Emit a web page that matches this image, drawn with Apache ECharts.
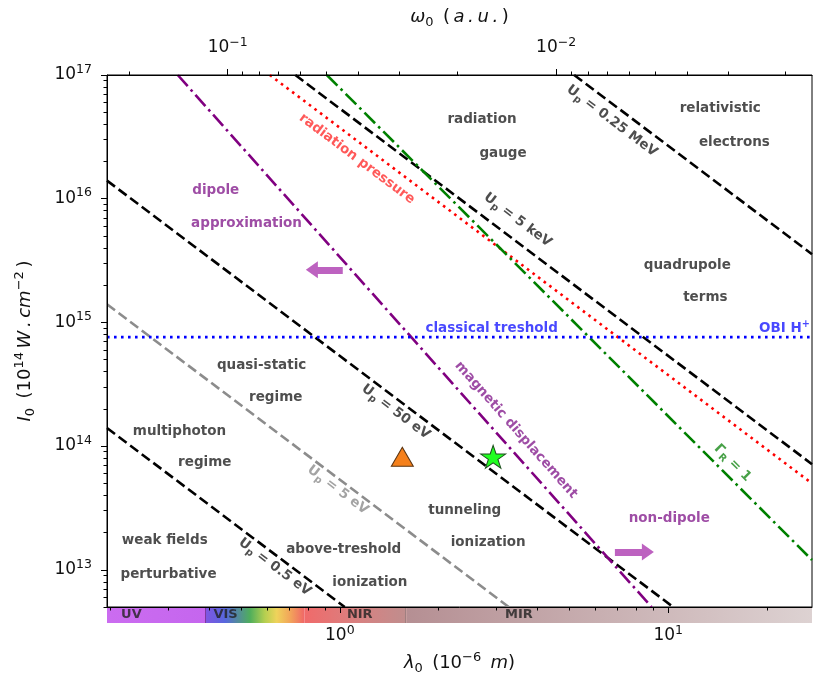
<!DOCTYPE html>
<html>
<head>
<meta charset="utf-8">
<style>
  html, body { margin: 0; padding: 0; background: #fff; }
  #chart { width: 814px; height: 680px; }
</style>
<script src="https://cdn.jsdelivr.net/npm/echarts@6.0.0/dist/echarts.min.js"></script>
</head>
<body>
<div id="chart"></div>
<script>
// ---------- axis ranges (wavelength in µm, intensity in W/cm²) ----------
const lambdaRange = [0.1955, 27.4];
const intensityRange = [5e12, 1e17];
const AU_UM = 0.045563;               // photon energy in a.u. times wavelength in µm

// ---------- tick values ----------
const lambdaMajor = [1, 10];
const lambdaMinor = [0.2, 0.3, 0.4, 0.5, 0.6, 0.7, 0.8, 0.9, 2, 3, 4, 5, 6, 7, 8, 9, 20];
const intensityMajor = [1e13, 1e14, 1e15, 1e16, 1e17];
const intensityMinorMantissa = [2, 3, 4, 5, 6, 7, 8, 9];
const intensityMinorDecades = [1e12, 1e13, 1e14, 1e15, 1e16];
const omegaMajor = [0.1, 0.01];
const omegaMinor = [0.2, 0.09, 0.08, 0.07, 0.06, 0.05, 0.04, 0.03, 0.02,
                    0.009, 0.008, 0.007, 0.006, 0.005, 0.004, 0.003, 0.002];

// ---------- regime boundaries: end points [λ, I] ----------
const upHalfEv        = [[0.1955, 1.40e14], [1.035, 5.0e12]];
const upFiveEv        = [[0.1955, 1.40e15], [3.27, 5.0e12]];
const upFiftyEv       = [[0.1955, 1.40e16], [10.35, 5.0e12]];
const upFiveKeV       = [[0.732, 1.0e17], [27.4, 7.14e13]];
const upQuarterMeV    = [[5.17, 1.0e17], [27.4, 3.56e15]];
const radiationPress  = [[0.612, 1.0e17], [27.4, 4.99e13]];
const gammaROne       = [[0.913, 1.0e17], [27.4, 1.2e13]];
const magneticDispl   = [[0.321, 1.0e17], [8.9, 5.0e12]];
const classicalThresh = [[0.1955, 7.6e14], [27.4, 7.6e14]];

// ---------- experimental points ----------
const trianglePoint = [1.55, 8.2e13];
const starPoint     = [2.93, 8.2e13];

// ---------- arrows ----------
const arrowDipole    = [[1.021, 2.66e15], [0.822, 2.66e15]];
const arrowNonDipole = [[6.88, 1.39e13], [8.67, 1.39e13]];

// ---------- region labels ----------
const regionText = ['radiation', 'gauge', 'relativistic', 'electrons', 'quadrupole', 'terms',
  'quasi-static', 'regime', 'multiphoton', 'regime', 'tunneling', 'ionization',
  'weak fields', 'perturbative', 'above-treshold', 'ionization'];
const regionLambda = [2.71, 3.14, 14.4, 15.9, 11.43, 12.97, 0.578, 0.638, 0.325, 0.388,
  2.40, 2.83, 0.293, 0.301, 1.028, 1.235];
const regionIntensity = [4.33e16, 2.34e16, 5.4e16, 2.87e16, 2.91e15, 1.60e15, 4.44e14, 2.45e14,
  1.32e14, 7.3e13, 3.04e13, 1.65e13, 1.71e13, 9.08e12, 1.47e13, 7.82e12];

const dipoleText = ['dipole', 'approximation', 'non-dipole'];
const dipoleLambda = [0.419, 0.520, 10.07];
const dipoleIntensity = [1.175e16, 6.25e15, 2.62e13];

// ---------- labels along the boundaries ----------
const upLabelEnergy = ['0.25 MeV', '5 keV', '50 eV', '5 eV', '0.5 eV'];
const upLabelLambda = [6.74, 3.48, 1.48, 0.986, 0.634];
const upLabelIntensity = [4.25e16, 6.73e15, 1.89e14, 4.42e13, 1.05e13];

const pressureLabel = [1.127, 2.1e16];
const magneticLabel = [3.44, 1.35e14];
const gammaLabel = [15.7, 7.3e13];
const thresholdLabel = [2.90, 9.0e14];
const obiLabel = [22.6, 9.0e14];

// ---------- spectral bar ----------
const bandEdges = [0.1955, 0.39, 0.78, 1.6, 27.4];   // UV | VIS | NIR | MIR
const bandNames = ['UV', 'VIS', 'NIR', 'MIR'];
const bandLabelAt = [0.232, 0.449, 1.15, 3.51];

// =====================================================================
const L = Math.log10;
const FONT = 'DejaVu Sans';
const TS = '\u2009';                   // thin space for math-like spacing
const toXY = p => [L(p[0]), L(p[1])];

const intensityMinor = [];
intensityMinorDecades.forEach(d => intensityMinorMantissa.forEach(m => {
  const v = d * m;
  if (v >= intensityRange[0] && v <= intensityRange[1]) intensityMinor.push(v);
}));

const tickRich = {
  b: { fontFamily: FONT, fontSize: 17, color: '#111', lineHeight: 24 },
  s: { fontFamily: FONT, fontSize: 12.5, color: '#111', lineHeight: 13, verticalAlign: 'top' }
};
const pow10 = e => '{b|10}{s|' + String(e).replace('-', '\u2212') + '}';

const titleRich = {
  i: { fontFamily: FONT, fontStyle: 'italic', fontSize: 18, color: '#111', lineHeight: 24 },
  n: { fontFamily: FONT, fontSize: 18, color: '#111', lineHeight: 24 },
  sub: { fontFamily: FONT, fontSize: 13, color: '#111', lineHeight: 13, verticalAlign: 'bottom' },
  sup: { fontFamily: FONT, fontSize: 13, color: '#111', lineHeight: 13, verticalAlign: 'top' }
};

function richFor(color, size) {
  size = size || 13.5;
  return {
    t: { fontFamily: FONT, fontWeight: 'bold', fontSize: size, color: color, lineHeight: 18 },
    sb: { fontFamily: FONT, fontWeight: 'bold', fontSize: size * 0.72, color: color, lineHeight: 10, verticalAlign: 'bottom' },
    sp: { fontFamily: FONT, fontWeight: 'bold', fontSize: size * 0.72, color: color, lineHeight: 10, verticalAlign: 'top' }
  };
}

function note(pos, fmt, color, rotate) {
  return {
    value: toXY(pos),
    label: { show: true, position: 'inside', formatter: fmt, rich: richFor(color), rotate: rotate || 0 }
  };
}

const notes = [];
regionText.forEach((t, i) => notes.push(note([regionLambda[i], regionIntensity[i]], '{t|' + t + '}', '#222')));
dipoleText.forEach((t, i) => notes.push(note([dipoleLambda[i], dipoleIntensity[i]], '{t|' + t + '}', '#86208f')));
upLabelEnergy.forEach((t, i) => notes.push(note([upLabelLambda[i], upLabelIntensity[i]],
  '{t|U}{sb|p}{t| = ' + t + '}', t === '5 eV' ? '#8c8c8c' : '#222', -37)));
notes.push(note(pressureLabel, '{t|radiation pressure}', '#ff3030', -37));
notes.push(note(magneticLabel, '{t|magnetic displacement}', '#86208f', -48.5));
notes.push(note(gammaLabel, '{t|\u0393}{sb|R}{t| = 1}', '#1a8a1a', -45));
notes.push(note(thresholdLabel, '{t|classical treshold}', '#1a1aff'));
notes.push(note(obiLabel, '{t|OBI H}{sp|+}', '#1a1aff'));

function boundary(pts, color, width, dash) {
  return {
    type: 'line', xAxisIndex: 0, yAxisIndex: 0, data: pts.map(toXY),
    symbol: 'none', silent: true, clip: true, z: 3,
    lineStyle: { color: color, width: width, type: dash }
  };
}
const DASH = [10, 4.5], DOT = [2.6, 4.4], DASHDOT = [15, 4.5, 2.6, 4.5];

function arrow(pts) {
  return {
    type: 'line', xAxisIndex: 0, yAxisIndex: 0, data: [], silent: true,
    markLine: {
      silent: true, animation: false, symbol: ['none', 'triangle'], symbolSize: [17, 12],
      label: { show: false },
      lineStyle: { color: '#bd62c0', width: 7, type: 'solid', opacity: 1 },
      data: [[{ coord: toXY(pts[0]) }, { coord: toXY(pts[1]) }]]
    }
  };
}

const STAR = 'path://M50,0 L61.2,34.5 L97.6,34.5 L68.2,55.9 L79.4,90.5 L50,69.1 L20.6,90.5 L31.8,55.9 L2.4,34.5 L38.8,34.5 Z';

const grad = stops => ({ type: 'linear', x: 0, y: 0, x2: 1, y2: 0,
  colorStops: stops.map(s => ({ offset: s[0], color: s[1] })) });
const bandFills = [
  grad([[0, '#cb6cf0'], [1, '#c566ee']]),
  grad([[0, '#7f56e2'], [0.2, '#5767dd'], [0.45, '#4fae5c'], [0.6, '#b5cf50'], [0.72, '#efd35b'], [0.86, '#f2a35a'], [1, '#f06767']]),
  grad([[0, '#f06a6a'], [0.5, '#d98080'], [1, '#bf8e8e']]),
  grad([[0, '#b58f93'], [1, '#ddd2d2']])
];

const xMin = L(lambdaRange[0]), xMax = L(lambdaRange[1]);
const yMin = L(intensityRange[0]), yMax = L(intensityRange[1]);

function axisBase(extra) {
  return Object.assign({
    type: 'value', gridIndex: 0, z: 10,
    splitLine: { show: false },
    axisLine: { show: true, onZero: false, lineStyle: { color: '#000', width: 1 } }
  }, extra);
}
const noLine = { show: false, onZero: false };

const option = {
  animation: false,
  backgroundColor: '#fff',
  grid: [
    { left: 107, right: 2, top: 75, bottom: 73, show: true, borderColor: '#000', borderWidth: 1,
      backgroundColor: 'transparent', outerBoundsMode: 'none', containLabel: false },
    { left: 107, right: 2, top: 607, height: 16, show: false, outerBoundsMode: 'none', containLabel: false }
  ],
  xAxis: [
    axisBase({
      position: 'bottom', min: xMin, max: xMax,
      axisTick: { show: true, length: 6, customValues: lambdaMajor.map(L), lineStyle: { color: '#000' } },
      axisLabel: { show: true, customValues: lambdaMajor.map(L), margin: 17,
        formatter: v => pow10(Math.round(v)), rich: tickRich },
      name: '{i|\u03bb}{sub|0}{n| ' + TS + '(10}{sup|\u22126}{n| ' + TS + '}{i|m}{n|)}',
      nameLocation: 'middle', nameGap: 44,
      nameTextStyle: { rich: titleRich }
    }),
    axisBase({
      position: 'bottom', min: xMin, max: xMax, axisLine: noLine,
      axisTick: { show: true, length: 3.5, customValues: lambdaMinor.map(L), lineStyle: { color: '#000' } },
      axisLabel: { show: false }
    }),
    axisBase({
      position: 'top', min: xMin, max: xMax,
      axisTick: { show: true, length: 6, customValues: omegaMajor.map(w => L(AU_UM / w)), lineStyle: { color: '#000' } },
      axisLabel: { show: true, customValues: omegaMajor.map(w => L(AU_UM / w)), margin: 15,
        formatter: v => pow10(Math.round(L(AU_UM) - v)), rich: tickRich },
      name: '{i|\u03c9}{sub|0}{n| ' + TS + '(' + TS + '}{i|a' + TS + '.' + TS + 'u' + TS + '.' + TS + '}{n|)}',
      nameLocation: 'middle', nameGap: 46,
      nameTextStyle: { rich: titleRich }
    }),
    axisBase({
      position: 'top', min: xMin, max: xMax, axisLine: noLine,
      axisTick: { show: true, length: 3.5, customValues: omegaMinor.map(w => L(AU_UM / w)), lineStyle: { color: '#000' } },
      axisLabel: { show: false }
    }),
    { type: 'value', gridIndex: 1, min: xMin, max: xMax, show: false, axisLine: noLine }
  ],
  yAxis: [
    axisBase({
      position: 'left', min: yMin, max: yMax,
      axisTick: { show: true, length: 6, customValues: intensityMajor.map(L), lineStyle: { color: '#000' } },
      axisLabel: { show: true, customValues: intensityMajor.map(L), margin: 15,
        formatter: v => pow10(Math.round(v)), rich: tickRich },
      name: '{i|I}{sub|0}{n| ' + TS + '(10}{sup|14}{i|' + TS + 'W' + TS + '.' + TS + 'cm}{sup|\u22122}{n|' + TS + ')}',
      nameLocation: 'middle', nameGap: 70, nameRotate: 90,
      nameTextStyle: { rich: titleRich }
    }),
    axisBase({
      position: 'left', min: yMin, max: yMax, axisLine: noLine,
      axisTick: { show: true, length: 3.5, customValues: intensityMinor.map(L), lineStyle: { color: '#000' } },
      axisLabel: { show: false }
    }),
    { type: 'value', gridIndex: 1, min: 0, max: 1, show: false, axisLine: noLine }
  ],
  series: [
    // spectral bar
    {
      type: 'line', xAxisIndex: 4, yAxisIndex: 2, data: [], silent: true, z: 1,
      markArea: {
        silent: true, animation: false, label: { show: false },
        data: bandNames.map((n, i) => [
          { coord: [L(bandEdges[i]), 0], itemStyle: { color: bandFills[i], opacity: 1, borderWidth: 0 } },
          { coord: [L(bandEdges[i + 1]), 1] }
        ])
      },
      markLine: {
        silent: true, animation: false, symbol: ['none', 'none'], label: { show: false },
        data: [
          { xAxis: L(bandEdges[1]), lineStyle: { color: '#7d3aa0', width: 1, type: 'solid' } },
          { xAxis: L(bandEdges[3]), lineStyle: { color: '#a07f80', width: 1, type: 'solid' } }
        ]
      }
    },
    {
      type: 'scatter', xAxisIndex: 4, yAxisIndex: 2, silent: true, z: 4,
      symbolSize: 1, itemStyle: { color: 'rgba(0,0,0,0)' },
      label: { show: true, position: 'inside', formatter: p => '{t|' + p.data[2] + '}', rich: richFor('#222', 13) },
      data: bandNames.map((n, i) => [L(bandLabelAt[i]), 0.5, n])
    },
    // boundaries
    boundary(upHalfEv, '#000', 2.6, DASH),
    boundary(upFiveEv, '#8c8c8c', 2.6, DASH),
    boundary(upFiftyEv, '#000', 2.6, DASH),
    boundary(upFiveKeV, '#000', 2.6, DASH),
    boundary(upQuarterMeV, '#000', 2.6, DASH),
    boundary(radiationPress, '#ff0000', 2.6, DOT),
    boundary(gammaROne, '#008000', 2.6, DASHDOT),
    boundary(magneticDispl, '#800080', 2.6, DASHDOT),
    boundary(classicalThresh, '#0000ff', 2.6, DOT),
    // arrows
    arrow(arrowDipole),
    arrow(arrowNonDipole),
    // markers
    { type: 'scatter', xAxisIndex: 0, yAxisIndex: 0, silent: true, z: 6,
      symbol: 'triangle', symbolSize: [22, 19],
      itemStyle: { color: '#f5801b', borderColor: '#5a3412', borderWidth: 1, opacity: 1 },
      data: [toXY(trianglePoint)] },
    { type: 'scatter', xAxisIndex: 0, yAxisIndex: 0, silent: true, z: 6,
      symbol: STAR, symbolSize: [25, 24], symbolKeepAspect: true,
      itemStyle: { color: '#22ff22', borderColor: '#1e4d1e', borderWidth: 1, opacity: 1 },
      data: [toXY(starPoint)] },
    // text notes
    { type: 'scatter', xAxisIndex: 0, yAxisIndex: 0, silent: true, z: 5,
      symbolSize: 1, itemStyle: { color: 'rgba(0,0,0,0)' },
      label: { show: true, position: 'inside' },
      data: notes }
  ]
};

const chart = echarts.init(document.getElementById('chart'), null, { renderer: 'canvas' });
chart.setOption(option);
</script>
</body>
</html>
